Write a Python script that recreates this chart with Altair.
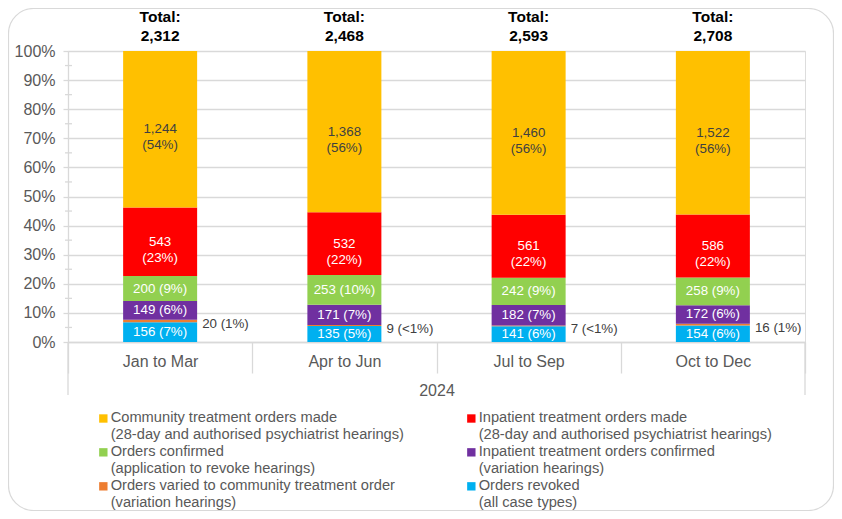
import altair as alt
import pandas as pd

quarters = ["Jan to Mar", "Apr to Jun", "Jul to Sep", "Oct to Dec"]
year_label = "2024"
totals = [2312, 2468, 2593, 2708]

series_names = [
    "Community treatment orders made|(28-day and authorised psychiatrist hearings)",
    "Inpatient treatment orders made|(28-day and authorised psychiatrist hearings)",
    "Orders confirmed|(application to revoke hearings)",
    "Inpatient treatment orders confirmed|(variation hearings)",
    "Orders varied to community treatment order|(variation hearings)",
    "Orders revoked|(all case types)",
]
series_colors = ["#FFC000", "#FF0000", "#92D050", "#7030A0", "#ED7D31", "#00B0F0"]
stack_rank = [5, 4, 3, 2, 1, 0]          # 0 = bottom of the stack
label_style = ["dark2", "white2", "white", "white", "outside", "white"]

cto_made = [1244, 1368, 1460, 1522]
cto_made_pct = ["54%", "56%", "56%", "56%"]
ito_made = [543, 532, 561, 586]
ito_made_pct = ["23%", "22%", "22%", "22%"]
confirmed = [200, 253, 242, 258]
confirmed_pct = ["9%", "10%", "9%", "9%"]
ito_confirmed = [149, 171, 182, 172]
ito_confirmed_pct = ["6%", "7%", "7%", "6%"]
varied = [20, 9, 7, 16]
varied_pct = ["1%", "<1%", "<1%", "1%"]
revoked = [156, 135, 141, 154]
revoked_pct = ["7%", "5%", "6%", "6%"]

major_ticks = [i / 10 for i in range(11)]
minor_ticks = [i / 10 + 0.05 for i in range(10)]

values = [cto_made, ito_made, confirmed, ito_confirmed, varied, revoked]
pcts = [cto_made_pct, ito_made_pct, confirmed_pct, ito_confirmed_pct, varied_pct, revoked_pct]

rows = []
for qi, q in enumerate(quarters):
    tot = sum(v[qi] for v in values)
    order = sorted(range(len(series_names)), key=lambda s: stack_rank[s])
    cum = 0
    for s in order:
        v = values[s][qi]
        mid = (cum + v / 2) / tot
        cum += v
        if label_style[s] in ("dark2", "white2"):
            txt = f"{v:,}\n({pcts[s][qi]})"
        else:
            txt = f"{v:,} ({pcts[s][qi]})"
        rows.append(dict(quarter=q, series=series_names[s], value=v, rank=stack_rank[s],
                         mid=mid, label=txt, style=label_style[s]))
df = pd.DataFrame(rows)
tot_df = pd.DataFrame({"quarter": quarters,
                       "label": [f"Total:\n{t:,}" for t in totals],
                       "top": [1.0] * 4})
minor_df = pd.DataFrame({"v": minor_ticks})

W, H = 737, 291
GRAY = "#595959"
LINE = "#d9d9d9"
FONT = "Liberation Sans"
yscale = alt.Scale(domain=[0, 1])

xaxis = alt.Axis(title=year_label, labelAngle=0, labelFontSize=16, labelColor=GRAY,
                 labelPadding=-20, tickBand="extent", tickSize=31, tickColor=LINE,
                 tickWidth=1.3, domainColor=LINE, domainWidth=1.3,
                 titleFontSize=16, titleColor=GRAY,
                 titleFontWeight="normal", titleY=48, titleBaseline="middle")
xenc = alt.X("quarter:N", sort=quarters,
             scale=alt.Scale(paddingInner=0, paddingOuter=0), axis=xaxis)

yaxis = alt.Axis(title=None, format=".0%", values=major_ticks, labelOverlap=False,
                 labelFontSize=16, labelColor=GRAY, labelPadding=8,
                 tickSize=5, tickColor=LINE, tickWidth=1.3, domainColor=LINE, domainWidth=1.3,
                 grid=True, gridColor=LINE, gridWidth=1.3)

bars = alt.Chart(df).mark_bar(size=74).encode(
    x=xenc,
    y=alt.Y("value:Q", stack="normalize", scale=yscale, axis=yaxis),
    color=alt.Color("series:N", scale=alt.Scale(domain=series_names, range=series_colors),
                    legend=alt.Legend(title=None, orient="none", legendX=28, legendY=360,
                                      direction="horizontal", columns=2, columnPadding=60,
                                      rowPadding=2, symbolType="square", symbolSize=70,
                                      symbolStrokeWidth=0,
                                      labelExpr="split(datum.label, '|')",
                                      labelFontSize=14.67, labelColor=GRAY,
                                      labelOffset=0, labelLimit=400, padding=0)),
    order=alt.Order("rank:Q", sort="ascending"),
)

ymid = alt.Y("mid:Q", scale=yscale, axis=yaxis)
xq = alt.X("quarter:N", sort=quarters, axis=xaxis)
dark_lbl = alt.Chart(df).transform_filter("datum.style == 'dark2'").mark_text(
    lineBreak="\n", fontSize=13.33, color="#404040", lineHeight=16, font=FONT
).encode(x=xq, y=ymid, text="label:N")
white_lbl = alt.Chart(df).transform_filter("datum.style == 'white2' || datum.style == 'white'").mark_text(
    lineBreak="\n", fontSize=13.33, color="white", lineHeight=16, font=FONT
).encode(x=xq, y=ymid, text="label:N")
out_lbl = alt.Chart(df).transform_filter("datum.style == 'outside'").mark_text(
    fontSize=13.33, color="#404040", align="left", dx=42, dy=3, font=FONT
).encode(x=xq, y=ymid, text="label:N")

total_lbl = alt.Chart(tot_df).mark_text(
    lineBreak="\n", fontSize=15.5, fontWeight="bold", color="black", baseline="bottom",
    dy=-26, lineHeight=19, font=FONT
).encode(x=xq, y=alt.Y("top:Q", scale=yscale, axis=yaxis), text="label:N")

minor = alt.Chart(minor_df).mark_rule(color=LINE, strokeWidth=1.3).encode(
    y=alt.Y("v:Q", scale=yscale, axis=yaxis), x=alt.value(-3), x2=alt.value(4))

one = pd.DataFrame({"k": [0]})
edge_left = alt.Chart(one).mark_rule(color=LINE, strokeWidth=1.3).encode(
    x=alt.value(0), y=alt.value(H), y2=alt.value(H + 53))
edge_right = alt.Chart(one).mark_rule(color=LINE, strokeWidth=1.3).encode(
    x=alt.value(W), y=alt.value(H), y2=alt.value(H + 53))
border = alt.Chart(one).mark_rect(fill=None, stroke=LINE, strokeWidth=1.2, cornerRadius=25).encode(
    x=alt.value(-59.5), x2=alt.value(W + 28.5), y=alt.value(-42.5), y2=alt.value(H + 168.5))

chart = alt.layer(border, bars, minor, dark_lbl, white_lbl, out_lbl, total_lbl,
                  edge_left, edge_right).properties(
    width=W, height=H,
    autosize=alt.AutoSizeParams(type="none"),
    padding={"left": 60, "top": 43, "right": 29, "bottom": 169},
).configure_view(stroke=None).configure_axisY(labelOverlap=False).configure(font=FONT)

chart.save("out.html", embed_options={"renderer": "svg", "actions": False})
